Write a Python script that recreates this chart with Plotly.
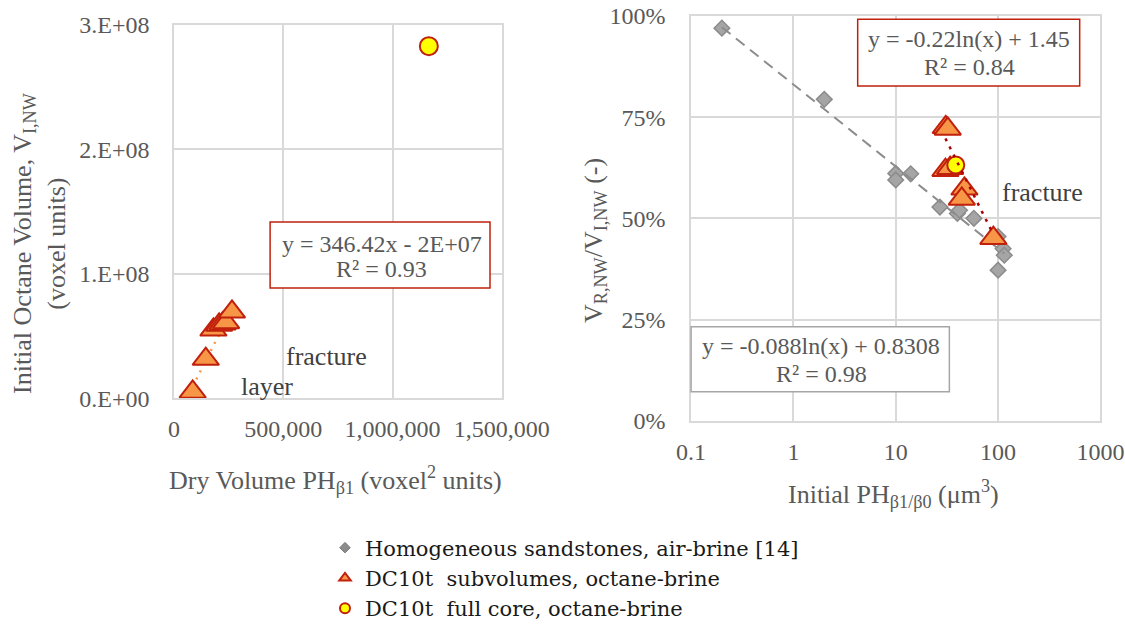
import math
import plotly.graph_objects as go

# ---------------- Left panel data ----------------
dry_volume_sub = [85000, 145000, 180000, 206000, 222000, 238000, 265000]
octane_volume_sub = [5.1e6, 3.15e7, 5.5e7, 5.9e7, 6.0e7, 6.1e7, 6.95e7]
dry_volume_core = [1166000]
octane_volume_core = [2.83e8]
lin_slope = 346.42
lin_intercept = -2e7
left_xticks = [0, 500000, 1000000, 1500000]
left_xtick_text = ["0", "500,000", "1,000,000", "1,500,000"]
left_yticks = [0, 1e8, 2e8, 3e8]
left_ytick_text = ["0.E+00", "1.E+08", "2.E+08", "3.E+08"]

# ---------------- Right panel data ----------------
homog_ph = [0.2, 2, 10, 10, 14, 27, 40, 42, 58, 100, 112, 115, 100]
homog_ratio = [0.97, 0.794, 0.611, 0.595, 0.61, 0.528, 0.512, 0.52, 0.50, 0.455, 0.425, 0.409, 0.372]
homog_a, homog_b = -0.088, 0.8308
sub_ph = [30.8, 32.2, 30.6, 34.0, 46.9, 44.2, 89.9]
sub_ratio = [0.725, 0.721, 0.619, 0.624, 0.573, 0.548, 0.451]
core_ph = [38.6]
core_ratio = [0.632]
sub_a, sub_b = -0.22, 1.45
right_xticks = [0.1, 1, 10, 100, 1000]
right_xtick_text = ["0.1", "1", "10", "100", "1000"]
right_yticks = [0, 0.25, 0.5, 0.75, 1.0]

legend_names = ["Homogeneous sandstones, air-brine [14]",
                "DC10t  subvolumes, octane-brine",
                "DC10t  full core, octane-brine"]

FONT = "Liberation Serif"
TXT = "#595959"
GRID = "#d9d9d9"
ORANGE = "#f79646"
DARKRED = "#c0200c"

# the page body margin is removed in post_script, so figure pixels = page pixels
W, H = 1125, 627


def fx(px):
    return px / W


def fy(py):
    return 1 - py / H


fig = go.Figure()

# left trendline
lx = [min(dry_volume_sub), max(dry_volume_sub)]
ly = [lin_slope * v + lin_intercept for v in lx]
fig.add_trace(go.Scatter(x=lx, y=ly, mode="lines", showlegend=False,
                         line=dict(color=ORANGE, width=2.5, dash="2px,6px"),
                         xaxis="x", yaxis="y"))
fig.add_trace(go.Scatter(x=dry_volume_sub, y=octane_volume_sub, mode="markers", showlegend=False,
                         marker=dict(symbol="triangle-up", size=23, color=ORANGE,
                                     line=dict(color=DARKRED, width=2)),
                         xaxis="x", yaxis="y"))
fig.add_trace(go.Scatter(x=dry_volume_core, y=octane_volume_core, mode="markers", showlegend=False,
                         marker=dict(symbol="circle", size=18, color="#ffff00",
                                     line=dict(color=DARKRED, width=2)),
                         xaxis="x", yaxis="y"))

# right panel
hx = [min(homog_ph), max(homog_ph)]
hy = [homog_a * math.log(v) + homog_b for v in hx]
fig.add_trace(go.Scatter(x=homog_ph, y=homog_ratio, mode="markers", showlegend=False,
                         marker=dict(symbol="diamond", size=12, color="#a5a5a5",
                                     line=dict(color="#8c8c8c", width=1.5)),
                         xaxis="x2", yaxis="y2"))
fig.add_trace(go.Scatter(x=hx, y=hy, mode="lines", showlegend=False,
                         line=dict(color="#8c8c8c", width=2, dash="11px,7px"),
                         xaxis="x2", yaxis="y2"))
fig.add_trace(go.Scatter(x=sub_ph, y=sub_ratio, mode="markers", showlegend=False,
                         marker=dict(symbol="triangle-up", size=23, color=ORANGE,
                                     line=dict(color=DARKRED, width=2)),
                         xaxis="x2", yaxis="y2"))
fig.add_trace(go.Scatter(x=core_ph, y=core_ratio, mode="markers", showlegend=False,
                         marker=dict(symbol="circle", size=17, color="#ffff00",
                                     line=dict(color=DARKRED, width=2)),
                         xaxis="x2", yaxis="y2"))
sx = [min(sub_ph), max(sub_ph)]
sy = [sub_a * math.log(v) + sub_b for v in sx]
fig.add_trace(go.Scatter(x=sx, y=sy, mode="lines", showlegend=False,
                         line=dict(color="#b00000", width=2.5, dash="3px,6px"),
                         xaxis="x2", yaxis="y2"))

# legend-only entries
leg_markers = [
    dict(symbol="diamond", size=8, color="#8c8c8c", line=dict(color="#6f6f6f", width=1)),
    dict(symbol="triangle-up", size=10, color=ORANGE, line=dict(color=DARKRED, width=2)),
    dict(symbol="circle", size=10, color="#ffff00", line=dict(color=DARKRED, width=2)),
]
for i, (nm, mk) in enumerate(zip(legend_names, leg_markers)):
    fig.add_trace(go.Scatter(x=[None], y=[None], mode="markers", name=nm, marker=mk,
                             legendgroup=f"g{i}", xaxis="x", yaxis="y"))

axis_common = dict(showgrid=True, gridcolor=GRID, gridwidth=1.5, showline=True, mirror=True,
                   linecolor=GRID, linewidth=1.5, zeroline=False, ticks="",
                   ticklabeloverflow="allow",
                   tickfont=dict(family=FONT, size=24, color=TXT))

fig.update_layout(
    width=W, height=H,
    margin=dict(l=0, r=0, t=0, b=0, autoexpand=False),
    paper_bgcolor="white", plot_bgcolor="white",
    font=dict(family=FONT, color=TXT),
    xaxis=dict(domain=[fx(174.1), fx(501.8)], range=[0, 1.5e6], tickvals=left_xticks,
               ticktext=left_xtick_text, ticklabelstandoff=8, anchor="y", **axis_common),
    yaxis=dict(domain=[fy(398.3), fy(25)], range=[0, 3e8], tickvals=left_yticks,
               ticktext=left_ytick_text, ticklabelstandoff=18, anchor="x", **axis_common),
    xaxis2=dict(domain=[fx(691.1), fx(1100.4)], type="log", range=[-1, 3], tickvals=right_xticks,
                ticktext=right_xtick_text, ticklabelstandoff=9, anchor="y2", **axis_common),
    yaxis2=dict(domain=[fy(420.7), fy(16)], range=[0, 1], tickvals=right_yticks,
                tickformat=".0%", ticklabelstandoff=19, anchor="x2", **axis_common),
    legend=dict(x=fx(325), y=fy(527.5), xanchor="left", yanchor="top",
                font=dict(family="DejaVu Serif", size=21, color="#1a1a1a"),
                tracegroupgap=0, itemwidth=30, bgcolor="rgba(0,0,0,0)"),
    showlegend=True,
)

# boxes for equations
fig.add_shape(type="rect", xref="x domain", yref="y domain", x0=0.293, x1=0.964, y0=0.2955, y1=0.4723,
              line=dict(color=DARKRED, width=1.5), fillcolor="white", layer="above")
fig.add_shape(type="rect", xref="x2 domain", yref="y2 domain", x0=0.407, x1=0.9494, y0=0.827, y1=0.992,
              line=dict(color=DARKRED, width=1.5), fillcolor="white", layer="above")
fig.add_shape(type="rect", xref="x2 domain", yref="y2 domain", x0=0.0, x1=0.631, y0=0.0717, y1=0.232,
              line=dict(color="#a6a6a6", width=1.5), fillcolor="white", layer="above")

ann_font = dict(family=FONT, size=24, color=TXT)
annots = [
    ("x domain", "y domain", 0.633, 0.413, "y = 346.42x - 2E+07"),
    ("x domain", "y domain", 0.633, 0.346, "R² = 0.93"),
    ("x2 domain", "y2 domain", 0.679, 0.943, "y = -0.22ln(x) + 1.45"),
    ("x2 domain", "y2 domain", 0.679, 0.873, "R² = 0.84"),
    ("x2 domain", "y2 domain", 0.318, 0.185, "y = -0.088ln(x) + 0.8308"),
    ("x2 domain", "y2 domain", 0.318, 0.115, "R² = 0.98"),
]
for xr, yr, x, y, t in annots:
    fig.add_annotation(xref=xr, yref=yr, x=x, y=y, text=t, showarrow=False,
                       font=ann_font, xanchor="center", yanchor="middle")

lab_font = dict(family=FONT, size=26, color="#404040")
for xr, yr, x, y, t in [("x domain", "y domain", 0.465, 0.111, "fracture"),
                        ("x domain", "y domain", 0.285, 0.031, "layer"),
                        ("x2 domain", "y2 domain", 0.8586, 0.565, "fracture")]:
    fig.add_annotation(xref=xr, yref=yr, x=x, y=y, text=t, showarrow=False, font=lab_font,
                       xanchor="center", yanchor="middle")

# axis titles as annotations
tfont = dict(family=FONT, size=26, color=TXT)
titles = [
    (335.5, 480, 0, "Dry Volume PH<sub>β1</sub> (voxel<sup>2</sup> units)"),
    (893, 494, 0, "Initial PH<sub>β1/β0</sub> (μm<sup>3</sup>)"),
    (39, 243, -90, "Initial Octane Volume, V<sub>I,NW</sub><br>(voxel units)"),
    (595, 241, -90, "V<sub>R,NW</sub>/V<sub>I,NW</sub> (-)"),
]
for px, py, ang, t in titles:
    fig.add_annotation(xref="paper", yref="paper", x=fx(px), y=fy(py), text=t, textangle=ang,
                       showarrow=False, font=tfont, xanchor="center", yanchor="middle")

fig.write_html("out.html", config={"displayModeBar": False},
               post_script="document.body.style.margin='0';document.body.style.overflow='hidden';")
